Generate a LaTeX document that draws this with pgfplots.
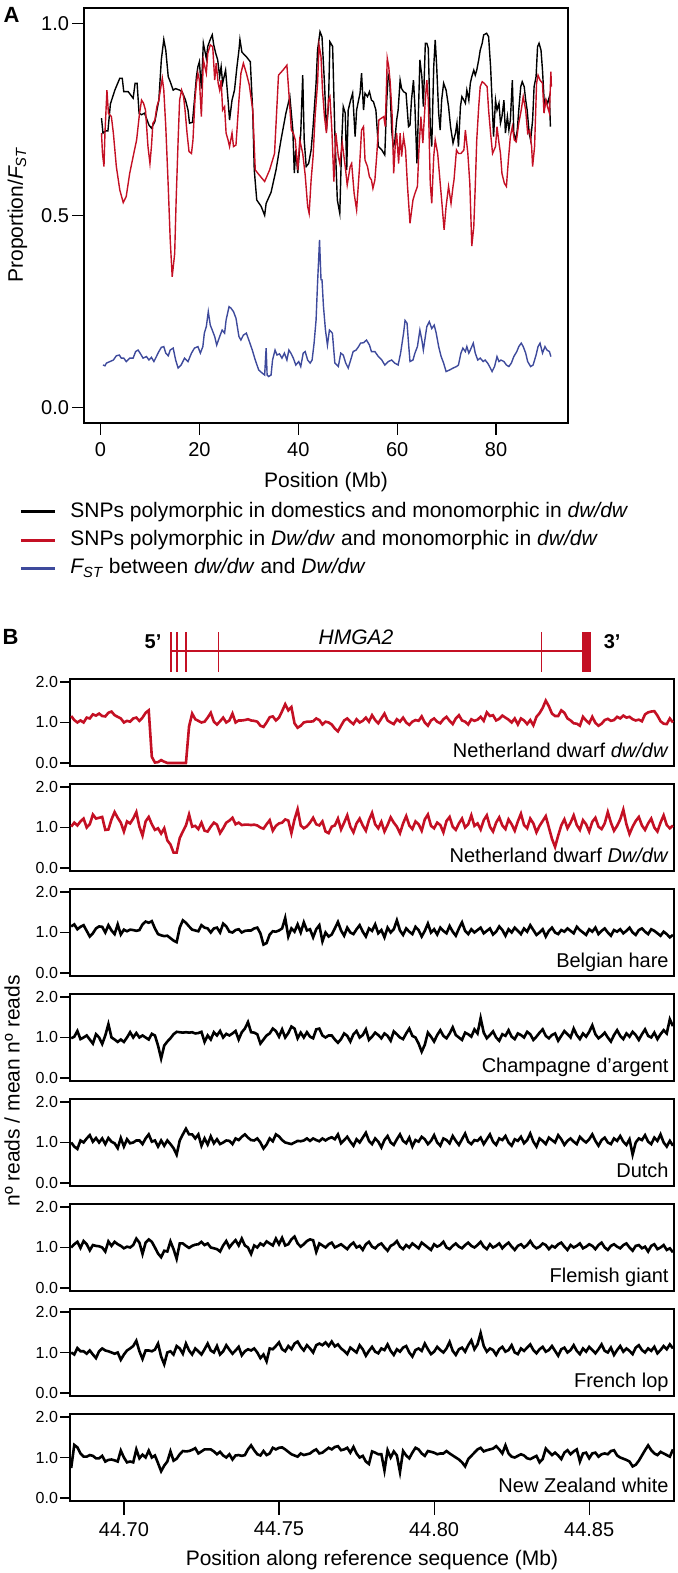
\documentclass[border=0pt]{standalone}
\usepackage{fontspec}
\setmainfont{Liberation Sans}
\usepackage{pgfplots}
\usepackage{pgfplotstable}
\pgfplotsset{compat=1.18}
\definecolor{hmred}{RGB}{196,16,36}
\definecolor{fstblue}{RGB}{62,74,156}

% read depth ratio, 8 breeds (a..h top to bottom)
\pgfplotstableread{
x a b c d e f g h
44.683 1.16 1.02 1.15 0.98 1.00 1.00 1.00 0.74
44.684 1.06 1.12 1.20 1.02 0.90 1.08 0.95 1.31
44.685 1.00 1.05 1.08 1.16 0.84 1.14 1.11 1.25
44.686 1.05 1.15 1.14 0.96 1.05 0.99 1.03 1.10
44.687 1.00 1.22 1.18 1.00 1.00 1.16 1.03 1.02
44.688 1.12 1.00 1.04 1.05 1.10 1.08 0.97 1.02
44.689 1.10 1.08 0.90 0.95 1.18 0.93 1.05 1.06
44.690 1.20 1.32 0.98 0.85 1.02 1.06 0.95 1.04
44.691 1.17 1.22 1.10 1.08 1.11 1.04 0.86 0.98
44.692 1.22 1.24 1.15 1.00 1.00 1.03 1.03 0.98
44.693 1.16 1.26 1.14 0.84 1.10 1.00 1.10 1.04
44.694 1.15 0.94 1.00 1.05 0.96 0.90 1.05 0.90
44.695 1.24 0.95 1.18 1.33 1.11 1.15 1.03 0.94
44.696 1.27 1.20 1.05 1.00 1.02 1.04 1.00 0.95
44.697 1.18 1.38 0.96 0.95 0.98 1.14 0.97 0.93
44.698 1.14 1.24 1.20 0.89 0.86 1.08 1.00 0.90
44.699 1.10 1.12 0.95 0.95 1.11 1.04 0.82 1.17
44.700 1.00 0.90 1.07 0.89 0.90 0.98 0.95 1.00
44.701 1.04 1.15 1.03 1.00 1.08 1.02 1.05 0.88
44.702 1.02 1.10 1.07 1.13 0.98 1.00 1.10 0.90
44.703 1.10 1.22 1.06 1.00 1.00 1.06 1.16 0.88
44.704 1.12 1.38 1.04 1.11 1.05 1.22 1.29 1.20
44.705 1.04 1.02 1.06 1.00 1.05 1.12 1.03 0.98
44.706 1.12 0.80 1.20 1.05 0.96 0.84 0.84 1.07
44.707 1.24 1.15 1.27 1.00 1.10 1.12 1.05 1.00
44.708 1.30 1.26 1.24 0.95 1.20 1.20 1.05 1.17
44.709 0.15 1.08 1.28 1.09 1.02 1.14 1.03 1.00
44.710 0.01 0.94 1.10 1.05 1.05 1.00 1.07 1.05
44.711 0.02 0.98 0.96 0.80 0.90 0.85 1.22 0.86
44.712 0.07 0.85 0.93 0.48 1.05 0.76 0.90 0.66
44.713 0.03 0.98 0.91 0.80 0.92 0.92 0.71 0.80
44.714 0.00 0.68 0.92 0.90 1.05 0.90 1.00 0.90
44.715 0.00 0.58 0.86 0.98 0.96 1.15 1.03 1.15
44.716 0.00 0.38 0.80 1.08 0.86 0.96 0.95 0.92
44.717 0.00 0.38 0.76 1.14 0.70 0.72 1.16 0.97
44.718 0.00 0.74 1.12 1.13 1.05 1.10 1.10 1.08
44.719 0.00 0.90 1.30 1.12 1.20 1.10 0.97 1.16
44.720 0.00 1.05 1.24 1.13 1.34 1.04 1.22 1.15
44.721 0.90 1.32 1.15 1.12 1.20 0.99 1.05 1.16
44.722 1.22 1.02 1.07 1.13 1.20 1.04 0.95 1.19
44.723 1.08 1.04 1.05 1.10 1.10 1.07 1.10 1.23
44.724 1.04 0.96 1.03 1.11 1.20 1.08 1.03 1.10
44.725 1.00 1.12 1.18 1.14 0.92 1.14 0.95 1.15
44.726 1.02 0.92 1.12 0.89 1.10 1.06 1.08 1.20
44.727 1.12 0.90 1.10 1.05 0.95 1.10 1.22 1.20
44.728 1.24 1.02 1.00 0.95 1.15 1.00 1.05 1.20
44.729 1.02 1.12 1.10 1.13 0.98 0.98 1.00 1.15
44.730 0.95 1.07 1.12 1.05 1.08 0.96 1.16 1.08
44.731 1.03 0.86 1.00 1.16 0.96 0.90 0.95 1.14
44.732 1.12 0.98 1.22 1.00 1.00 1.05 1.03 1.05
44.733 1.00 1.12 1.15 1.09 1.05 1.16 1.18 1.00
44.734 1.05 1.17 1.02 1.05 1.04 1.00 1.07 1.08
44.735 1.22 1.24 1.00 1.10 0.96 1.10 0.97 0.95
44.736 1.00 1.08 1.06 1.16 1.10 1.18 1.05 1.05
44.737 1.05 1.12 1.08 0.95 1.06 1.05 1.14 1.06
44.738 1.05 1.06 1.00 1.13 1.14 1.22 0.93 1.04
44.739 1.06 1.07 1.04 1.22 1.20 1.05 1.03 1.06
44.740 1.08 1.07 1.05 1.38 1.12 1.00 1.08 1.20
44.741 1.05 1.06 1.05 1.13 1.06 0.84 1.05 1.30
44.742 1.04 1.07 1.10 1.12 1.05 1.05 1.10 1.18
44.743 1.02 1.05 1.12 1.08 1.10 1.00 1.00 1.08
44.744 0.92 1.00 0.98 0.85 1.00 1.10 0.86 1.05
44.745 0.89 0.97 0.70 0.95 0.85 1.05 0.95 1.16
44.746 1.00 1.08 0.74 1.05 0.95 1.15 0.78 1.06
44.747 1.13 1.18 0.95 1.10 1.10 1.10 1.10 1.10
44.748 1.15 0.92 1.03 1.22 1.03 1.05 1.08 1.24
44.749 1.05 1.04 1.02 1.16 1.20 1.22 1.16 1.20
44.750 1.12 1.10 1.05 1.02 1.15 1.08 1.25 1.24
44.751 1.28 1.12 1.10 1.20 1.06 1.24 1.08 1.25
44.752 1.45 1.20 1.36 1.00 1.00 1.05 1.03 1.20
44.753 1.30 1.17 0.90 1.11 0.98 1.08 1.16 1.14
44.754 1.38 0.86 1.10 1.27 0.96 1.20 1.08 1.08
44.755 0.98 1.20 1.02 1.22 1.00 1.27 1.22 1.05
44.756 0.87 1.45 1.20 0.98 1.04 1.10 1.27 1.02
44.757 0.92 1.05 1.00 1.12 1.03 1.02 1.14 1.10
44.758 1.00 0.98 1.25 1.00 1.05 1.08 1.05 1.06
44.759 1.02 1.03 1.05 1.13 1.10 1.16 1.18 1.08
44.760 1.02 1.12 1.08 1.02 1.04 1.20 1.10 1.10
44.761 1.03 1.24 0.88 0.98 1.10 1.18 1.00 1.16
44.762 1.10 1.08 1.08 1.20 1.06 0.89 1.18 1.20
44.763 1.06 1.05 1.18 1.22 1.03 1.10 1.22 1.10
44.764 0.95 1.15 0.78 1.05 1.10 1.05 1.18 1.12
44.765 1.02 0.90 1.00 1.00 1.05 1.00 1.25 1.18
44.766 1.00 0.86 0.90 1.05 1.10 1.08 1.16 1.24
44.767 0.95 1.02 0.95 1.05 1.13 1.12 1.27 1.20
44.768 0.85 1.05 1.10 0.95 1.08 1.00 1.15 1.26
44.769 0.78 1.22 1.26 0.87 1.20 1.04 1.20 1.28
44.770 0.92 0.95 1.05 0.96 0.98 1.08 1.10 1.18
44.771 1.05 1.12 0.92 1.10 1.06 1.02 1.04 1.20
44.772 1.10 1.30 1.12 1.04 1.14 0.96 0.96 1.24
44.773 1.02 1.02 1.00 0.90 1.02 1.06 1.12 1.12
44.774 0.96 0.88 0.96 1.08 0.92 1.12 1.06 1.26
44.775 1.08 1.10 1.08 1.16 1.08 1.00 1.00 1.10
44.776 1.00 1.22 1.18 1.00 1.00 1.04 1.18 1.00
44.777 1.04 1.05 1.02 1.06 1.12 0.94 1.08 1.04
44.778 1.12 0.92 0.90 1.20 1.24 1.08 0.92 0.90
44.779 1.02 1.18 1.10 0.94 1.04 1.14 1.04 0.84
44.780 1.18 1.36 1.04 1.02 0.96 1.02 1.14 1.15
44.781 1.06 1.08 1.20 1.12 1.10 0.98 1.02 1.12
44.782 0.98 0.98 0.98 1.06 1.02 1.06 0.98 1.08
44.783 1.10 1.14 1.06 0.98 0.88 1.10 1.10 1.08
44.784 1.22 0.90 0.88 1.10 1.06 1.00 1.06 0.68
44.785 1.05 1.06 1.12 1.04 1.16 0.92 1.20 1.18
44.786 1.00 1.25 1.00 0.92 1.00 1.04 1.04 1.00
44.787 0.96 1.12 1.08 1.15 0.94 1.08 0.94 1.15
44.788 1.08 1.02 1.30 1.08 1.08 1.16 1.08 1.05
44.789 1.02 0.86 1.05 1.00 1.20 1.02 1.02 0.64
44.790 1.12 1.10 0.94 0.96 1.04 0.96 1.12 1.16
44.791 1.00 1.28 1.10 1.10 0.98 1.06 1.16 1.05
44.792 0.94 1.05 1.02 1.22 1.12 1.00 1.00 0.98
44.793 1.02 0.96 0.96 1.04 0.90 1.10 0.90 1.12
44.794 1.06 1.15 1.14 1.00 1.06 1.04 1.06 1.24
44.795 1.04 1.08 1.06 0.85 1.02 0.98 1.10 1.20
44.796 1.15 0.92 0.90 0.65 1.14 1.12 1.04 1.10
44.797 1.00 1.20 1.04 0.82 1.08 1.06 1.22 1.04
44.798 0.92 1.32 1.22 1.12 0.96 1.00 1.08 1.16
44.799 1.05 1.04 1.00 1.02 1.04 0.94 0.96 1.14
44.800 1.10 0.98 1.08 0.90 1.18 1.08 1.02 1.12
44.801 1.02 1.12 0.95 1.06 1.00 1.02 1.14 1.08
44.802 0.98 1.06 1.12 1.18 0.92 1.06 1.06 1.10
44.803 1.08 0.88 1.04 1.04 1.10 1.14 1.00 1.10
44.804 1.14 1.16 0.98 0.98 1.06 1.00 1.10 1.16
44.805 1.04 1.26 1.16 1.10 0.98 0.96 1.26 1.10
44.806 0.96 1.02 1.02 1.25 1.16 1.04 1.04 1.05
44.807 1.10 0.94 0.92 1.06 1.04 1.10 0.94 1.00
44.808 1.18 1.10 1.10 1.00 0.94 1.02 1.08 0.95
44.809 1.05 1.22 1.25 0.94 1.08 0.98 1.12 0.88
44.810 1.02 1.00 1.04 1.12 1.22 1.06 1.02 0.78
44.811 0.95 1.08 0.96 1.08 1.02 1.12 1.18 0.96
44.812 1.08 1.30 1.08 1.02 0.96 1.04 1.30 1.04
44.813 1.04 1.04 1.00 1.20 1.06 1.00 1.08 1.12
44.814 1.07 1.10 1.06 1.10 1.04 1.06 1.20 1.20
44.815 1.14 0.95 1.12 1.48 1.12 1.14 1.48 1.24
44.816 1.04 1.18 0.98 1.12 0.96 1.02 1.16 1.15
44.817 1.25 1.30 1.04 0.98 1.08 0.96 1.02 1.18
44.818 1.16 1.02 1.10 1.06 1.20 1.08 1.10 1.20
44.819 1.18 0.90 0.95 1.15 1.02 1.00 1.06 1.22
44.820 1.05 1.12 1.02 1.00 0.94 1.04 0.94 1.28
44.821 1.09 1.25 1.15 0.92 1.10 1.10 1.08 1.20
44.822 1.17 1.05 1.06 1.08 1.06 0.98 1.14 1.10
44.823 1.12 0.96 0.92 1.04 1.16 1.06 1.02 1.30
44.824 1.07 1.20 1.08 1.18 1.00 1.12 1.06 1.10
44.825 1.00 1.08 1.00 1.02 0.92 1.02 1.18 1.02
44.826 1.10 0.92 1.12 0.96 1.08 0.94 1.00 1.00
44.827 0.95 1.15 1.04 1.10 1.04 1.04 0.96 1.04
44.828 1.10 1.34 0.96 1.06 1.14 1.08 1.10 1.08
44.829 1.05 1.06 1.10 1.00 0.98 1.00 1.04 1.05
44.830 0.96 0.98 1.02 1.14 1.06 1.06 1.12 0.98
44.831 1.06 1.22 1.18 1.08 1.22 1.16 1.20 0.96
44.832 0.93 1.10 1.06 0.94 1.02 1.04 1.06 1.00
44.833 1.14 0.88 0.94 1.02 0.90 0.98 0.98 1.04
44.834 1.23 1.04 1.00 1.12 1.10 1.02 1.08 0.88
44.835 1.36 1.16 1.08 1.20 1.04 1.10 1.14 0.96
44.836 1.54 1.28 0.90 1.04 0.96 1.06 1.02 1.22
44.837 1.40 1.00 1.04 0.98 1.12 0.96 1.06 1.14
44.838 1.22 0.72 1.12 1.06 1.06 1.04 1.16 1.06
44.839 1.16 0.52 1.00 1.10 1.00 1.00 1.04 1.12
44.840 1.16 0.80 0.96 0.92 1.18 1.08 0.92 1.05
44.841 1.30 1.05 1.06 1.04 1.08 1.12 1.08 0.96
44.842 1.24 1.20 1.02 1.16 0.94 1.02 1.12 1.12
44.843 1.10 0.98 1.10 1.08 1.04 0.94 1.00 1.18
44.844 1.05 1.12 1.04 1.00 1.10 1.06 1.06 1.08
44.845 0.98 1.30 0.98 1.22 1.02 1.00 1.18 1.15
44.846 0.97 1.06 1.14 1.06 0.96 1.04 1.04 1.20
44.847 0.92 0.94 1.06 0.96 1.14 1.10 0.96 0.90
44.848 1.14 1.18 1.00 1.10 1.06 0.98 1.10 1.10
44.849 1.05 1.08 0.94 1.02 1.00 1.02 1.02 1.12
44.850 0.98 0.90 1.08 1.14 1.08 1.08 1.14 0.98
44.851 1.14 1.14 1.02 1.30 1.20 1.04 1.06 1.10
44.852 0.99 1.24 1.12 1.08 1.04 0.96 0.98 1.12
44.853 0.92 1.02 0.96 0.98 0.92 1.06 1.08 1.02
44.854 0.97 0.96 1.04 1.04 1.06 1.12 1.20 1.08
44.855 1.06 1.10 1.10 1.12 1.12 1.00 1.04 1.10
44.856 1.09 1.38 1.00 1.00 1.00 0.94 1.00 1.08
44.857 1.04 1.12 0.92 0.90 0.96 1.04 1.12 1.16
44.858 1.06 0.92 1.06 1.06 1.10 1.08 0.94 1.18
44.859 1.14 1.04 1.02 1.18 1.04 1.02 1.06 1.05
44.860 1.10 1.20 1.08 1.04 1.16 0.98 1.16 1.00
44.861 1.17 1.44 0.98 0.96 1.02 1.06 1.02 0.97
44.862 1.12 1.08 1.04 1.10 0.94 1.10 1.10 0.94
44.863 1.14 0.84 1.12 1.02 1.08 1.00 1.04 0.90
44.864 1.08 1.02 1.00 1.14 0.70 0.92 0.96 0.78
44.865 1.05 1.16 0.94 1.06 1.00 1.04 1.12 0.82
44.866 1.07 1.26 1.06 0.94 1.10 1.06 1.18 0.92
44.867 1.03 1.05 1.10 1.08 1.06 0.98 1.06 1.05
44.868 1.20 0.94 1.02 1.20 1.18 1.02 1.00 1.18
44.869 1.25 1.10 0.96 1.04 1.02 0.90 1.10 1.30
44.870 1.27 1.22 1.08 1.00 0.96 1.04 1.04 1.18
44.871 1.28 1.00 1.04 1.12 1.12 1.08 1.14 1.10
44.872 1.17 0.90 0.98 0.96 1.04 0.96 0.98 1.06
44.873 1.03 1.12 0.92 1.08 1.20 1.00 1.06 1.14
44.874 0.97 1.30 1.02 1.18 1.00 1.06 1.16 1.10
44.875 0.96 1.06 0.96 1.10 0.90 0.94 1.08 1.06
44.876 1.10 0.98 0.88 1.45 1.04 0.98 1.20 1.02
44.877 1.00 1.05 0.94 1.28 0.92 0.88 1.10 1.20
}\cnv

\pgfplotsset{
  bpanel/.style={
    at={(35pt,#1)}, anchor=south west, scale only axis,
    width=302pt, height=43.5pt,
    xmin=44.68262, xmax=44.87734, ymin=-0.075, ymax=2.075,
    ytick={0,1,2}, yticklabels={0.0,1.0,2.0}, xtick=\empty,
    tick pos=left, tick align=outside, major tick length=5pt,
    yticklabel style={font=\fontsize{8}{9}\selectfont, xshift=2.5pt},
    axis line style={line width=0.6pt},
    every tick/.append style={line width=0.6pt, black},
  },
}
\tikzset{blabel/.style={anchor=base east, font=\fontsize{10}{12}\selectfont, inner sep=0pt}}

\begin{document}
\begin{tikzpicture}
\useasboundingbox (0,0) rectangle (338.5pt,786.5pt);

% ---------- panel A ----------
\begin{axis}[
    at={(42pt,575pt)}, anchor=south west, scale only axis,
    width=242pt, height=207.5pt,
    xmin=-3.34, xmax=94.56, ymin=-0.041, ymax=1.040,
    xtick={0,20,40,60,80}, xticklabels={0,20,40,60,80},
    ytick={0,0.5,1}, yticklabels={0.0,0.5,1.0},
    tick pos=left, tick align=outside, major tick length=6pt,
    tick label style={font=\fontsize{10}{12}\selectfont},
    yticklabel style={xshift=2pt},
    axis line style={line width=0.6pt},
    every tick/.append style={line width=0.6pt, black},
    legend style={at={(axis description cs:-0.1343,-0.188)}, anchor=north west,
      draw=none, fill=none, inner sep=0pt, column sep=7pt, row sep=3.6pt,
      font=\fontsize{10.5}{12}\selectfont,
      nodes={inner sep=0pt, text height=8pt, text depth=2.5pt}},
    legend cell align=left,
    legend image code/.code={\draw[#1, line width=1.5pt] (0pt,0pt) -- (17pt,0pt);},
]
\addplot[black, line width=0.7pt] coordinates {
(0.2,0.753) (0.5,0.714) (1.1,0.72) (1.5,0.72) (2.0,0.79) (2.9,0.826) (3.9,0.857) (4.4,0.857) (4.7,0.822) (5.6,0.822) (6.6,0.805) (7.0,0.844) (7.4,0.844) (7.8,0.766) (8.3,0.762) (8.9,0.766) (9.8,0.735) (10.3,0.727) (11.0,0.744) (11.3,0.766) (11.8,0.80) (12.3,0.905) (12.8,0.958) (13.2,0.93) (13.7,0.861) (14.1,0.848) (14.7,0.826) (15.2,0.83) (16.0,0.826) (16.5,0.822) (17.2,0.80) (17.7,0.774) (18.0,0.74) (18.6,0.742) (19.0,0.80) (19.4,0.861) (19.7,0.887) (20.0,0.90) (20.4,0.83) (20.8,0.948) (21.4,0.909) (21.7,0.94) (22.2,0.958) (22.6,0.97) (22.9,0.944) (23.3,0.922) (23.7,0.905) (24.1,0.861) (24.4,0.887) (24.7,0.844) (25.3,0.878) (25.8,0.80) (26.1,0.748) (26.6,0.80) (27.1,0.826) (27.6,0.887) (28.0,0.93) (28.2,0.958) (28.6,0.925) (29.5,0.913) (30.3,0.90) (30.8,0.766) (31.1,0.618) (31.6,0.54) (32.5,0.523) (33.2,0.50) (33.5,0.531) (34.5,0.56) (35.5,0.618) (36.5,0.696) (37.5,0.766) (38.3,0.809) (38.9,0.722) (39.2,0.61) (39.5,0.67) (39.9,0.61) (40.2,0.661) (40.5,0.714) (40.9,0.865) (41.2,0.696) (41.6,0.627) (42.1,0.635) (42.6,0.67) (43.0,0.731) (43.6,0.844) (43.9,0.93) (44.4,0.978) (44.8,0.965) (45.3,0.844) (45.7,0.722) (46.1,0.783) (46.4,0.952) (46.95,0.94) (47.4,0.714) (47.9,0.54) (48.4,0.505) (48.8,0.696) (49.1,0.783) (49.5,0.766) (49.8,0.618) (50.1,0.774) (50.6,0.80) (51.0,0.818) (51.5,0.705) (51.8,0.774) (52.2,0.80) (52.5,0.818) (52.8,0.87) (53.2,0.774) (53.5,0.818) (54.0,0.809) (54.4,0.822) (54.8,0.80) (55.2,0.796) (55.7,0.774) (56.2,0.679) (56.9,0.67) (57.5,0.657) (57.9,0.80) (58.2,0.865) (58.5,0.852) (58.9,0.722) (59.2,0.679) (59.5,0.688) (59.9,0.748) (60.2,0.774) (60.6,0.852) (60.9,0.83) (61.3,0.822) (61.8,0.818) (62.3,0.731) (62.6,0.735) (62.9,0.80) (63.3,0.852) (63.6,0.783) (64.0,0.635) (64.3,0.766) (64.6,0.905) (65.0,0.861) (65.3,0.783) (65.7,0.948) (66.0,0.948) (66.3,0.935) (66.7,0.731) (67.0,0.679) (67.4,0.887) (67.7,0.957) (68.0,0.887) (68.4,0.766) (68.7,0.722) (69.0,0.80) (69.4,0.844) (69.9,0.826) (70.4,0.783) (70.8,0.731) (71.3,0.688) (71.8,0.714) (72.1,0.74) (72.4,0.679) (72.8,0.783) (73.1,0.809) (73.5,0.80) (73.8,0.792) (74.1,0.826) (74.5,0.80) (74.8,0.844) (75.1,0.861) (75.5,0.878) (75.8,0.865) (76.1,0.878) (76.5,0.905) (76.8,0.93) (77.2,0.948) (77.5,0.97) (78.1,0.974) (78.5,0.965) (78.9,0.887) (79.2,0.80) (79.5,0.705) (79.9,0.80) (80.2,0.774) (80.6,0.792) (80.9,0.74) (81.2,0.757) (81.6,0.80) (81.9,0.714) (82.3,0.757) (82.6,0.722) (82.9,0.748) (83.3,0.852) (83.6,0.714) (84.0,0.696) (84.3,0.722) (84.6,0.774) (85.0,0.835) (85.3,0.848) (85.7,0.835) (86.0,0.80) (86.3,0.774) (86.7,0.714) (87.0,0.696) (87.4,0.748) (87.7,0.835) (88.1,0.861) (88.4,0.939) (88.7,0.948) (89.1,0.93) (89.4,0.878) (89.8,0.783) (90.1,0.80) (90.4,0.792) (90.8,0.809) (91.0,0.731)
};
\addlegendentry{SNPs polymorphic in domestics and monomorphic in \textit{dw/dw}}
\addplot[hmred, line width=0.7pt] coordinates {
(0.2,0.714) (0.4,0.661) (0.7,0.627) (0.9,0.714) (1.3,0.826) (1.6,0.766) (2.2,0.757) (2.6,0.714) (3.2,0.627) (3.9,0.566) (4.6,0.533) (5.2,0.549) (5.9,0.609) (6.6,0.653) (7.3,0.696) (7.9,0.766) (8.3,0.80) (8.7,0.792) (9.1,0.774) (9.6,0.679) (10.0,0.635) (10.3,0.679) (10.6,0.74) (11.0,0.748) (11.4,0.783) (11.8,0.80) (12.1,0.826) (12.5,0.857) (12.8,0.826) (13.2,0.731) (13.7,0.575) (14.1,0.436) (14.5,0.34) (15.0,0.40) (15.3,0.54) (15.7,0.696) (16.0,0.80) (16.4,0.826) (16.8,0.809) (17.1,0.774) (17.5,0.714) (17.9,0.666) (18.4,0.661) (18.7,0.696) (19.1,0.80) (19.4,0.844) (19.7,0.87) (20.0,0.852) (20.4,0.757) (20.8,0.905) (21.4,0.87) (21.7,0.922) (22.2,0.944) (22.7,0.939) (23.1,0.852) (23.4,0.896) (23.8,0.844) (24.1,0.826) (24.4,0.852) (24.7,0.774) (25.1,0.783) (25.4,0.714) (25.8,0.696) (26.1,0.679) (26.6,0.714) (26.9,0.679) (27.4,0.683) (28.0,0.80) (28.4,0.87) (28.9,0.896) (29.5,0.87) (30.1,0.839) (30.8,0.774) (31.3,0.618) (32.1,0.605) (33.2,0.588) (34.2,0.618) (35.2,0.661) (36.0,0.865) (36.9,0.878) (37.7,0.891) (38.2,0.80) (38.6,0.722) (39.0,0.714) (39.4,0.696) (39.9,0.618) (40.3,0.696) (40.9,0.661) (41.4,0.605) (41.9,0.523) (42.2,0.505) (42.6,0.592) (43.0,0.653) (43.4,0.757) (43.9,0.844) (44.2,0.944) (44.6,0.913) (44.9,0.826) (45.3,0.757) (45.7,0.714) (46.1,0.80) (46.4,0.809) (46.8,0.722) (47.2,0.588) (47.6,0.714) (48.1,0.653) (48.4,0.635) (48.9,0.688) (49.5,0.627) (49.9,0.579) (50.5,0.627) (50.8,0.635) (51.3,0.557) (51.8,0.514) (52.4,0.627) (52.8,0.722) (53.2,0.731) (53.5,0.644) (54.0,0.627) (54.4,0.60) (54.8,0.592) (55.1,0.57) (55.5,0.592) (55.9,0.661) (56.3,0.748) (56.7,0.752) (57.3,0.757) (57.6,0.731) (58.0,0.909) (58.3,0.887) (58.6,0.844) (59.0,0.757) (59.3,0.609) (59.6,0.679) (59.9,0.714) (60.3,0.635) (60.6,0.714) (60.9,0.653) (61.3,0.705) (61.7,0.67) (62.1,0.575) (62.6,0.479) (63.2,0.54) (63.6,0.557) (64.1,0.575) (64.4,0.67) (64.8,0.757) (65.2,0.688) (65.7,0.80) (66.0,0.852) (66.3,0.80) (66.7,0.583) (67.0,0.531) (67.4,0.653) (67.7,0.696) (68.2,0.661) (68.6,0.60) (69.0,0.54) (69.5,0.462) (69.9,0.523) (70.4,0.575) (70.9,0.531) (71.3,0.575) (71.5,0.592) (72.0,0.67) (72.4,0.661) (72.9,0.661) (73.5,0.67) (73.8,0.722) (74.3,0.661) (74.7,0.583) (75.1,0.42) (75.5,0.47) (75.8,0.575) (76.1,0.696) (76.5,0.783) (76.8,0.835) (77.2,0.848) (77.6,0.844) (78.2,0.835) (78.5,0.774) (78.9,0.714) (79.3,0.661) (79.9,0.679) (80.2,0.731) (80.6,0.688) (80.9,0.661) (81.2,0.609) (81.7,0.583) (82.1,0.575) (82.5,0.644) (82.9,0.705) (83.3,0.731) (83.7,0.696) (84.1,0.692) (84.6,0.74) (85.1,0.774) (85.5,0.809) (86.0,0.774) (86.4,0.714) (86.8,0.722) (87.2,0.679) (87.4,0.627) (87.8,0.679) (88.2,0.844) (88.5,0.865) (88.9,0.852) (89.4,0.844) (89.7,0.766) (90.1,0.80) (90.4,0.783) (90.8,0.766) (91.1,0.874) (91.2,0.835)
};
\addlegendentry{SNPs polymorphic in \textit{Dw/dw} and monomorphic in \textit{dw/dw}}
\addplot[fstblue, line width=0.7pt] coordinates {
(0.5,0.11) (0.9,0.108) (1.2,0.115) (1.9,0.119) (2.6,0.123) (3.2,0.134) (3.8,0.136) (4.2,0.128) (4.7,0.128) (5.2,0.119) (5.9,0.128) (6.6,0.128) (7.1,0.145) (7.6,0.149) (8.1,0.139) (8.6,0.128) (9.3,0.132) (9.8,0.123) (10.3,0.13) (10.8,0.119) (11.3,0.132) (11.8,0.145) (12.3,0.156) (12.8,0.158) (13.2,0.141) (13.7,0.134) (14.1,0.149) (14.7,0.154) (15.2,0.123) (15.7,0.102) (16.3,0.11) (17.0,0.128) (17.7,0.119) (18.4,0.141) (19.0,0.154) (19.7,0.158) (20.2,0.141) (20.7,0.158) (21.0,0.193) (21.4,0.21) (21.8,0.249) (22.2,0.214) (22.6,0.201) (23.1,0.184) (23.5,0.162) (24.1,0.184) (24.6,0.201) (25.1,0.193) (25.4,0.227) (26.0,0.262) (26.4,0.258) (26.9,0.249) (27.4,0.232) (28.0,0.184) (28.4,0.175) (28.9,0.188) (29.5,0.193) (30.0,0.175) (30.7,0.149) (31.3,0.123) (32.0,0.097) (32.7,0.089) (33.2,0.084) (33.5,0.154) (33.7,0.084) (34.0,0.08) (34.5,0.084) (34.8,0.123) (35.3,0.149) (35.7,0.136) (36.2,0.139) (36.7,0.128) (37.2,0.141) (37.7,0.123) (38.1,0.149) (38.5,0.141) (39.0,0.128) (39.5,0.11) (40.1,0.119) (40.5,0.106) (41.0,0.141) (41.4,0.145) (41.9,0.123) (42.4,0.115) (42.8,0.123) (43.2,0.167) (43.6,0.227) (43.9,0.323) (44.3,0.436) (44.6,0.332) (44.8,0.332) (45.1,0.262) (45.5,0.201) (45.9,0.162) (46.3,0.201) (46.9,0.193) (47.4,0.115) (48.1,0.106) (48.6,0.141) (49.1,0.136) (49.6,0.115) (50.1,0.102) (50.6,0.123) (51.1,0.145) (51.7,0.149) (52.2,0.158) (52.6,0.167) (53.2,0.168) (53.8,0.175) (54.4,0.162) (54.8,0.145) (55.5,0.145) (56.2,0.132) (56.9,0.123) (57.5,0.11) (58.2,0.119) (58.9,0.123) (59.5,0.115) (60.2,0.11) (60.7,0.141) (61.3,0.193) (61.6,0.226) (62.0,0.219) (62.3,0.167) (62.6,0.119) (63.2,0.123) (63.6,0.141) (64.1,0.158) (64.6,0.201) (65.0,0.175) (65.3,0.149) (65.7,0.184) (66.0,0.21) (66.5,0.223) (67.0,0.205) (67.5,0.214) (67.9,0.193) (68.4,0.158) (68.9,0.132) (69.4,0.115) (69.9,0.093) (70.6,0.097) (71.3,0.102) (72.0,0.106) (72.4,0.11) (72.9,0.141) (73.3,0.154) (73.8,0.145) (74.1,0.158) (74.5,0.141) (74.8,0.149) (75.4,0.167) (75.8,0.141) (76.3,0.123) (76.8,0.128) (77.4,0.119) (77.8,0.123) (78.3,0.115) (78.7,0.106) (79.2,0.093) (79.7,0.106) (80.2,0.132) (80.6,0.119) (81.0,0.123) (81.6,0.119) (82.1,0.11) (82.6,0.106) (83.1,0.115) (83.6,0.132) (84.2,0.145) (84.6,0.158) (85.1,0.167) (85.5,0.158) (86.0,0.141) (86.4,0.119) (87.0,0.106) (87.5,0.11) (88.1,0.136) (88.5,0.158) (88.9,0.167) (89.4,0.141) (89.9,0.158) (90.3,0.149) (90.8,0.145) (91.1,0.132)
};
\addlegendentry{\textit{F\textsubscript{ST}} between \textit{dw/dw} and \textit{Dw/dw}}
\end{axis}

\node[font=\fontsize{11}{13}\selectfont\bfseries] at (5.75pt,779.25pt) {A};
\node[rotate=90, font=\fontsize{10.5}{12}\selectfont] at (8.75pt,679pt) {Proportion/\textit{F\textsubscript{ST}}};
\node[font=\fontsize{10.5}{12}\selectfont] at (163pt,545.5pt) {Position (Mb)};

% ---------- panel B ----------
\node[font=\fontsize{11}{13}\selectfont\bfseries] at (5.25pt,468pt) {B};

\begin{axis}[
    at={(35pt,450.5pt)}, anchor=south west, scale only axis,
    width=302pt, height=20pt,
    xmin=44.68262, xmax=44.87734, ymin=0, ymax=1,
    hide axis, clip=false,
]
\addplot[hmred, line width=1.25pt] coordinates {(44.7155,0.525) (44.8477,0.525)};
\addplot[hmred, line width=1.1pt] coordinates {(44.7152,0) (44.7152,1)};
\addplot[hmred, line width=0.6pt] coordinates {(44.7171,0) (44.7171,1)};
\addplot[hmred, line width=0.6pt] coordinates {(44.7200,0) (44.7200,1)};
\addplot[hmred, line width=0.4pt] coordinates {(44.7303,0) (44.7303,1)};
\addplot[hmred, line width=0.4pt] coordinates {(44.8345,0) (44.8345,1)};
\addplot[hmred, line width=4.5pt] coordinates {(44.8491,0) (44.8491,1)};
\node[font=\fontsize{10}{12}\selectfont\bfseries] at (axis cs:44.7094,0.75) {5’};
\node[font=\fontsize{10}{12}\selectfont\bfseries] at (axis cs:44.8574,0.75) {3’};
\node[font=\fontsize{10.5}{12}\selectfont\itshape] at (axis cs:44.7748,0.875) {HMGA2};
\end{axis}

\begin{axis}[bpanel=403.5pt]
\addplot[hmred, line width=1.3pt] table[x=x, y=a] {\cnv};
\node[blabel] at (rel axis cs:0.9917,0.092) {Netherland dwarf \textit{dw/dw}};
\end{axis}
\begin{axis}[bpanel=351pt]
\addplot[hmred, line width=1.3pt] table[x=x, y=b] {\cnv};
\node[blabel] at (rel axis cs:0.9917,0.092) {Netherland dwarf \textit{Dw/dw}};
\end{axis}
\begin{axis}[bpanel=298.5pt]
\addplot[black, line width=1.3pt] table[x=x, y=c] {\cnv};
\node[blabel] at (rel axis cs:0.9917,0.092) {Belgian hare};
\end{axis}
\begin{axis}[bpanel=246pt]
\addplot[black, line width=1.3pt] table[x=x, y=d] {\cnv};
\node[blabel] at (rel axis cs:0.9917,0.092) {Champagne d’argent};
\end{axis}
\begin{axis}[bpanel=193.5pt]
\addplot[black, line width=1.3pt] table[x=x, y=e] {\cnv};
\node[blabel] at (rel axis cs:0.9917,0.092) {Dutch};
\end{axis}
\begin{axis}[bpanel=141pt]
\addplot[black, line width=1.3pt] table[x=x, y=f] {\cnv};
\node[blabel] at (rel axis cs:0.9917,0.092) {Flemish giant};
\end{axis}
\begin{axis}[bpanel=88.5pt]
\addplot[black, line width=1.3pt] table[x=x, y=g] {\cnv};
\node[blabel] at (rel axis cs:0.9917,0.092) {French lop};
\end{axis}
\begin{axis}[bpanel=36pt,
    xtick={44.70,44.75,44.80,44.85}, xticklabels={44.70,44.75,44.80,44.85},
    xtick style={/pgfplots/major tick length=7pt},
    xticklabel style={font=\fontsize{10}{12}\selectfont, yshift=-2pt},
]
\addplot[black, line width=1.3pt] table[x=x, y=h] {\cnv};
\node[blabel] at (rel axis cs:0.9917,0.092) {New Zealand white};
\end{axis}

\node[rotate=90, font=\fontsize{10.5}{12}\selectfont] at (6pt,241pt) {nº reads / mean nº reads};
\node[font=\fontsize{10.5}{12}\selectfont] at (186pt,6.5pt) {Position along reference sequence (Mb)};
\end{tikzpicture}
\end{document}
